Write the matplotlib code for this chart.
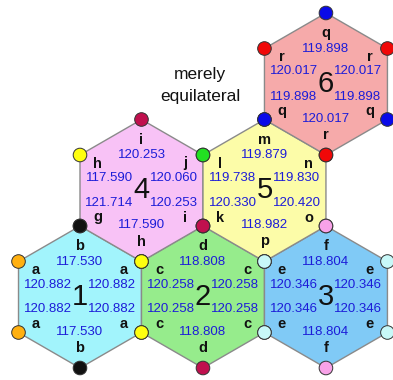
import numpy as np
import matplotlib
matplotlib.use("Agg")
import matplotlib.pyplot as plt
from matplotlib.patches import Polygon, Circle

plt.rcParams['font.family'] = ['Liberation Sans', 'DejaVu Sans']

# Hexagon data; vertex order: top, upper-right, lower-right, bottom, lower-left, upper-left
hex_ids = ["1", "2", "3", "4", "5", "6"]
hex_lattice = [(0, 0), (0, 1), (0, 2), (1, 0.5), (1, 1.5), (2, 2)]  # (row, col)
hex_fill = ["#a2f4fc", "#96ec8c", "#80caf6", "#f8c2f6", "#fcfca8", "#f6aaaa"]
hex_letters = [
    ["b", "a", "a", "b", "a", "a"],
    ["d", "c", "c", "d", "c", "c"],
    ["f", "e", "e", "f", "e", "e"],
    ["i", "j", "i", "h", "g", "h"],
    ["m", "n", "o", "p", "k", "l"],
    ["q", "r", "q", "r", "q", "r"],
]
hex_angles = [
    ["117.530", "120.882", "120.882", "117.530", "120.882", "120.882"],
    ["118.808", "120.258", "120.258", "118.808", "120.258", "120.258"],
    ["118.804", "120.346", "120.346", "118.804", "120.346", "120.346"],
    ["120.253", "120.060", "120.253", "117.590", "121.714", "117.590"],
    ["119.879", "119.830", "120.420", "118.982", "120.330", "119.738"],
    ["119.898", "120.017", "119.898", "120.017", "119.898", "120.017"],
]
BLK, ORG, YEL, CRM, CYN, PNK, GRN, BLU, RED = (
    "#111111", "#ffb010", "#ffff10", "#c0104e", "#c8f8f8", "#f8a2e8", "#22e022", "#0a0ae8", "#f00808")
hex_dots = [
    [BLK, YEL, YEL, BLK, ORG, ORG],
    [CRM, CYN, CYN, CRM, YEL, YEL],
    [PNK, CYN, CYN, PNK, CYN, CYN],
    [CRM, GRN, CRM, YEL, BLK, YEL],
    [BLU, RED, PNK, CYN, CRM, GRN],
    [BLU, RED, BLU, RED, BLU, RED],
]
note_lines = ["merely", "equilateral"]

R = 71.0
W = R * np.sqrt(3) / 2
X0, Y0 = 80.0, 297.0

fig = plt.figure(figsize=(3.93, 3.80), dpi=100)
ax = fig.add_axes([0, 0, 1, 1])
ax.set_xlim(0, 393)
ax.set_ylim(380, 0)
ax.axis("off")

angs = np.radians([90, 30, -30, -90, -150, 150])
ux, uy = np.cos(angs), -np.sin(angs)

centers = [(X0 + 2 * W * c, Y0 - 1.5 * R * r) for r, c in hex_lattice]

for (cx, cy), fc in zip(centers, hex_fill):
    pts = np.column_stack([cx + R * ux, cy + R * uy])
    ax.add_patch(Polygon(pts, closed=True, facecolor=fc, edgecolor="#8a8a8a", lw=1.0, zorder=1))

letter_off = [(0, -51), (44, -27), (44, 27), (0, 51), (-44, 27), (-44, -27)]
value_off = [(0, -35), (32, -12.5), (32, 12.5), (0, 35), (-32, 12.5), (-32, -12.5)]

for i, (cx, cy) in enumerate(centers):
    for k in range(6):
        lx, ly = letter_off[k]
        ax.text(cx + lx, cy + ly, hex_letters[i][k], ha="center", va="center",
                fontsize=10.5, fontweight="bold", color="#111111", zorder=4)
        vx, vy = value_off[k]
        ax.text(cx + vx, cy + vy, hex_angles[i][k], ha="center", va="center",
                fontsize=9.5, color="#1c1cd8", zorder=4)
    ax.text(cx, cy, hex_ids[i], ha="center", va="center", fontsize=21, color="#111111", zorder=4)

for i, (cx, cy) in enumerate(centers):
    for k in range(6):
        ax.add_patch(Circle((cx + R * ux[k], cy + R * uy[k]), 6.8, facecolor=hex_dots[i][k],
                            edgecolor="#333333", lw=0.7, zorder=5))

ax.text(200, 75, note_lines[0], ha="center", va="center", fontsize=12.5, color="#111111")
ax.text(200, 97, note_lines[1], ha="center", va="center", fontsize=12.5, color="#111111")

fig.savefig("out.png", dpi=100)
